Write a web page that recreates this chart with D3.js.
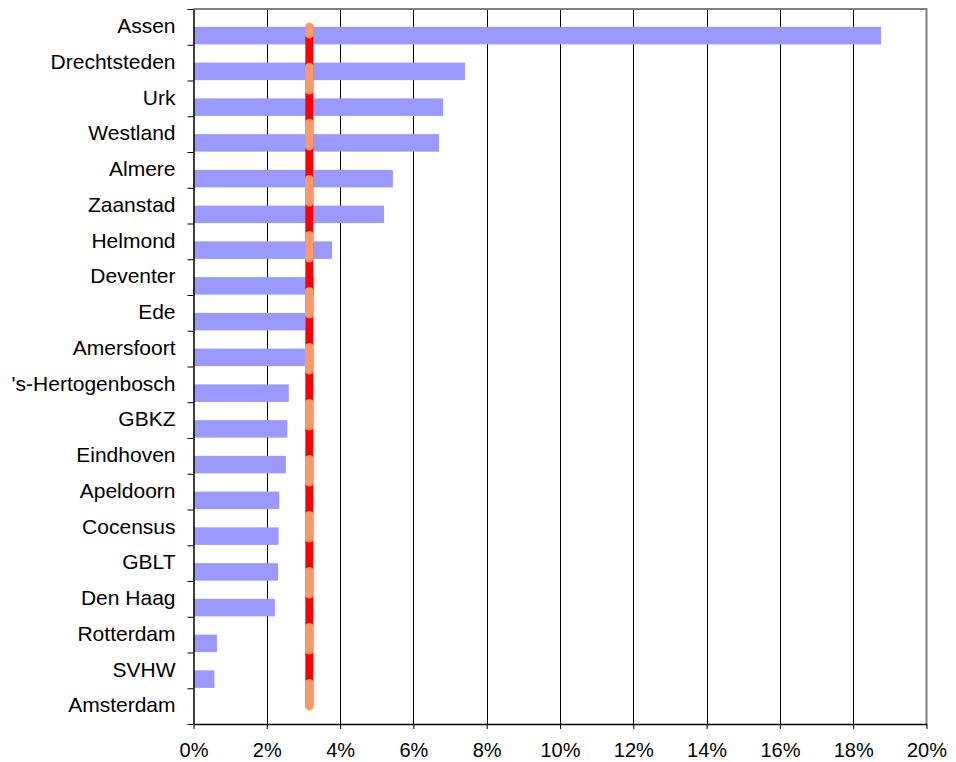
<!DOCTYPE html>
<html>
<head>
<meta charset="utf-8">
<script src="https://cdn.jsdelivr.net/npm/d3@7"></script>
<style>
  body { margin: 0; background: #fff; }
  svg { font-family: "Liberation Sans", Arial, sans-serif; }
</style>
</head>
<body>
<svg id="chart"></svg>
<script>
const width = 956;
const height = 762;
const margin = { top: 9, right: 30, bottom: 38, left: 193.5 };

// data
const regions = ["Assen", "Drechtsteden", "Urk", "Westland", "Almere", "Zaanstad", "Helmond",
    "Deventer", "Ede", "Amersfoort", "'s-Hertogenbosch", "GBKZ", "Eindhoven", "Apeldoorn",
    "Cocensus", "GBLT", "Den Haag", "Rotterdam", "SVHW", "Amsterdam"];
const shares = [0.1876, 0.0741, 0.0681, 0.0670, 0.0544, 0.0520, 0.0378,
    0.0329, 0.0305, 0.0304, 0.0260, 0.0256, 0.0252, 0.0234,
    0.0232, 0.0231, 0.0222, 0.0064, 0.0057, 0];
const average = 0.0316;
const xTicks = [0, 0.02, 0.04, 0.06, 0.08, 0.10, 0.12, 0.14, 0.16, 0.18, 0.20];

const svg = d3.select("#chart")
    .attr("width", width)
    .attr("height", height);

const x = d3.scaleLinear()
    .domain([0, 0.2])
    .range([margin.left, 926.5]);

const y = d3.scaleBand()
    .domain(regions)
    .range([margin.top, 724]);

const bw = y.bandwidth();

// gridlines
svg.append("g")
    .selectAll("line")
    .data(xTicks.slice(1, -1))
    .enter()
    .append("line")
    .attr("x1", d => Math.round(x(d)) + 0.5)
    .attr("x2", d => Math.round(x(d)) + 0.5)
    .attr("y1", margin.top)
    .attr("y2", 724)
    .attr("stroke", "#000")
    .attr("stroke-width", 1);

// top and right border
svg.append("path")
    .attr("d", `M${x(0)},${margin.top} H${x(0.2)} V724`)
    .attr("fill", "none")
    .attr("stroke", "#808080")
    .attr("stroke-width", 2);

// bars
svg.selectAll(".bar")
    .data(regions)
    .enter()
    .append("rect")
    .attr("class", "bar")
    .attr("x", x(0))
    .attr("y", d => y(d) + bw * 0.5)
    .attr("width", (d, i) => x(shares[i]) - x(0))
    .attr("height", bw * 0.49)
    .attr("fill", "#9999ff");

// average line
const yTop = y(regions[0]) + bw / 2;
const yBot = y(regions[regions.length - 1]) + bw / 2;

svg.append("line")
    .attr("x1", x(average))
    .attr("x2", x(average))
    .attr("y1", yTop)
    .attr("y2", yBot)
    .attr("stroke", "#ff0000")
    .attr("stroke-width", 8);

svg.append("path")
    .attr("d", `M${x(average)},${yBot} V${yTop}`)
    .attr("stroke", "#ff9966")
    .attr("stroke-width", 8.5)
    .attr("stroke-linecap", "round")
    .attr("stroke-dasharray", "23 33")
    .attr("fill", "none");

// y axis: labels at band centres
const yAxis = d3.axisLeft(y).tickSize(0).tickPadding(18);
const gy = svg.append("g")
    .attr("transform", `translate(${x(0)},0)`)
    .call(yAxis);
gy.select(".domain").remove();
gy.selectAll("text")
    .attr("font-size", 21)
    .attr("dy", "0.3em")
    .attr("font-family", "Liberation Sans, Arial, sans-serif")
    .attr("fill", "#000");

// y axis line and ticks at band edges
const yEdge = d3.scaleLinear().domain([0, regions.length]).range([margin.top, 724]);
const gyTicks = svg.append("g")
    .attr("transform", `translate(${x(0)},0)`)
    .call(d3.axisLeft(yEdge).ticks(regions.length).tickSize(6).tickSizeOuter(0).tickFormat(""));
gyTicks.select(".domain").attr("stroke", "#000").attr("stroke-width", 1.5);

// x axis
const xAxis = d3.axisBottom(x)
    .tickValues(xTicks)
    .tickFormat(d3.format(".0%"))
    .tickSize(5)
    .tickSizeOuter(0)
    .tickPadding(14);

const gx = svg.append("g")
    .attr("transform", "translate(0,724)")
    .call(xAxis);
gx.select(".domain").attr("stroke", "#000").attr("stroke-width", 1.5);
gx.selectAll("text")
    .attr("font-size", 20)
    .attr("font-family", "Liberation Sans, Arial, sans-serif")
    .attr("fill", "#000");
</script>
</body>
</html>
